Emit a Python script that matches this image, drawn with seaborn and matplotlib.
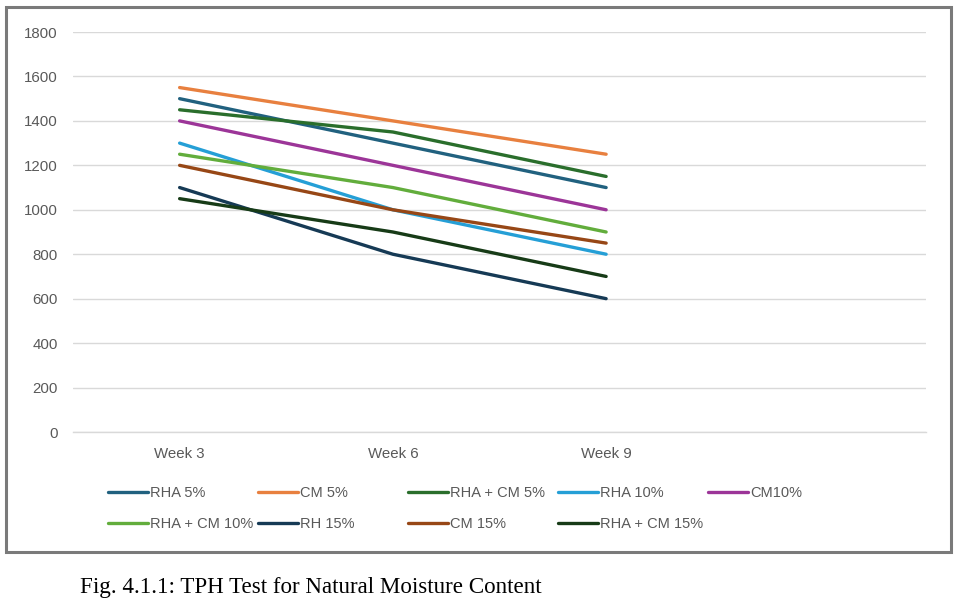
import matplotlib
matplotlib.use("Agg")
import matplotlib.pyplot as plt
from matplotlib.patches import Rectangle
from matplotlib.lines import Line2D
import seaborn as sns
import pandas as pd

weeks = ["Week 3", "Week 6", "Week 9"]
series_names = ["RHA 5%", "CM 5%", "RHA + CM 5%", "RHA 10%", "CM10%",
                "RHA + CM 10%", "RH 15%", "CM 15%", "RHA + CM 15%"]
rha5 = [1500, 1300, 1100]
cm5 = [1550, 1400, 1250]
rhacm5 = [1450, 1350, 1150]
rha10 = [1300, 1000, 800]
cm10 = [1400, 1200, 1000]
rhacm10 = [1250, 1100, 900]
rh15 = [1100, 800, 600]
cm15 = [1200, 1000, 850]
rhacm15 = [1050, 900, 700]
values = [rha5, cm5, rhacm5, rha10, cm10, rhacm10, rh15, cm15, rhacm15]
colors = ["#21617f", "#e8803f", "#2a6e2c", "#259fd6", "#9c3598",
          "#62ad3c", "#163a55", "#974716", "#173b17"]
yticks = [0, 200, 400, 600, 800, 1000, 1200, 1400, 1600, 1800]

rows = []
for name, vals in zip(series_names, values):
    for i, (w, v) in enumerate(zip(weeks, vals)):
        rows.append({"series": name, "pos": i, "week": w, "value": v})
df = pd.DataFrame(rows)

sns.set_theme(style="white")
plt.rcParams["font.family"] = ["Liberation Sans", "DejaVu Sans"]

fig = plt.figure(figsize=(9.55, 6.07), dpi=100)
fig.patch.set_facecolor("white")
ax = fig.add_axes([73 / 955, 1 - 432 / 607, (926 - 73) / 955, 400 / 607])

sns.lineplot(data=df, x="pos", y="value", hue="series", hue_order=series_names,
             palette=colors, linewidth=2.4, ax=ax, legend=False,
             solid_capstyle="round")

ax.set_xlim(-0.5, 3.5)
ax.set_ylim(0, 1800)
ax.set_yticks(yticks)
ax.set_yticklabels([str(t) for t in yticks])
ax.set_xticks(range(len(weeks)))
ax.set_xticklabels(weeks)
ax.set_xlabel("")
ax.set_ylabel("")
ax.grid(axis="y", color="#d9d9d9", linewidth=1)
ax.grid(axis="x", visible=False)
ax.set_axisbelow(True)
for s in ax.spines.values():
    s.set_visible(False)
ax.spines["bottom"].set_visible(True)
ax.spines["bottom"].set_color("#d9d9d9")
ax.spines["bottom"].set_linewidth(1)
ax.tick_params(axis="both", length=0, labelsize=10.8, colors="#595959")
ax.tick_params(axis="y", pad=11)
ax.tick_params(axis="x", pad=11)

# legend: 5 columns, two rows
col_x = [108, 258, 408, 558, 708]
for c in range(5):
    idx = [c, c + 5] if c + 5 < len(series_names) else [c]
    handles = [Line2D([0], [0], color=colors[i], linewidth=2.4) for i in idx]
    labels = [series_names[i] for i in idx]
    fig.legend(handles, labels, loc="upper left",
               bbox_to_anchor=(col_x[c] / 955, 1 - 486 / 607),
               frameon=False, fontsize=10.5, handlelength=2.75,
               handletextpad=0.15, labelspacing=1.15, borderpad=0,
               borderaxespad=0, labelcolor="#595959")

fig.patches.append(Rectangle((6 / 955, 1 - 552 / 607), 945 / 955, 545 / 607,
                             transform=fig.transFigure, fill=False,
                             edgecolor="#7a7a7a", linewidth=2.2))

fig.text(80 / 955, 1 - 588 / 607, "Fig. 4.1.1: TPH Test for Natural Moisture Content",
         family="Liberation Serif", fontsize=16.6, color="black",
         ha="left", va="center")

fig.savefig("out.png", dpi=100)
